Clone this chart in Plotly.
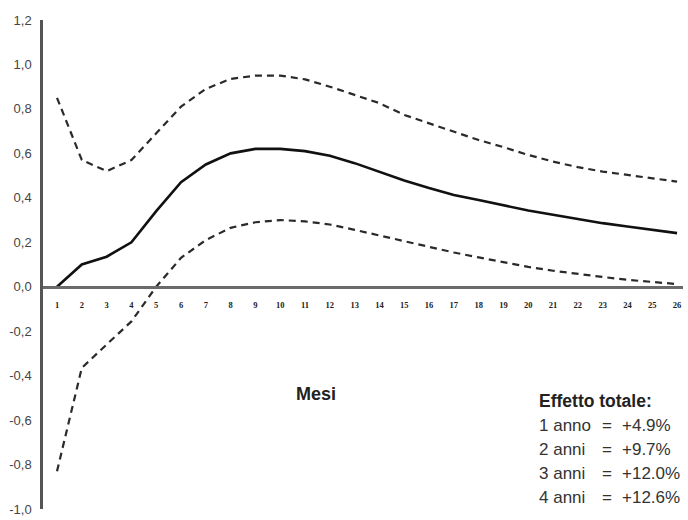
import plotly.graph_objects as go

months = list(range(1, 27))
month_labels = [str(m) for m in months]

central = [0.0, 0.10, 0.135, 0.20, 0.34, 0.47, 0.55, 0.60, 0.62, 0.62, 0.61, 0.589,
           0.556, 0.518, 0.478, 0.444, 0.413, 0.39, 0.365, 0.343, 0.324, 0.304,
           0.286, 0.271, 0.256, 0.241]
upper = [0.85, 0.57, 0.52, 0.57, 0.69, 0.81, 0.89, 0.935, 0.95, 0.95, 0.933, 0.90,
         0.863, 0.826, 0.773, 0.735, 0.698, 0.66, 0.628, 0.593, 0.563, 0.538,
         0.518, 0.503, 0.488, 0.473]
lower = [-0.83, -0.365, -0.26, -0.156, 0.0, 0.13, 0.21, 0.265, 0.29, 0.30, 0.294, 0.28,
         0.256, 0.231, 0.204, 0.178, 0.154, 0.132, 0.111, 0.089, 0.072, 0.057,
         0.044, 0.031, 0.021, 0.012]

y_ticks = [1.2, 1.0, 0.8, 0.6, 0.4, 0.2, 0.0, -0.2, -0.4, -0.6, -0.8, -1.0]
y_tick_labels = ["1,2", "1,0", "0,8", "0,6", "0,4", "0,2", "0,0",
                 "-0,2", "-0,4", "-0,6", "-0,8", "-1,0"]

summary_title = "Effetto totale:"
summary_labels = ["1 anno", "2 anni", "3 anni", "4 anni"]
summary_values = ["+4.9%", "+9.7%", "+12.0%", "+12.6%"]

fig = go.Figure()
fig.add_trace(go.Scatter(x=months, y=upper, mode="lines",
                         line=dict(color="#2a2a2a", width=2.2, dash="7px,5px")))
fig.add_trace(go.Scatter(x=months, y=lower, mode="lines",
                         line=dict(color="#2a2a2a", width=2.2, dash="7px,5px")))
fig.add_trace(go.Scatter(x=months, y=central, mode="lines",
                         line=dict(color="#111111", width=2.6)))

ymin, ymax = -1.0, 1.2
fig.update_layout(
    width=688, height=520,
    margin=dict(l=43, r=5, t=20, b=11),
    paper_bgcolor="white", plot_bgcolor="white",
    showlegend=False,
    font=dict(family="Liberation Sans, Arial, sans-serif", color="#333333"),
    xaxis=dict(range=[0.435, 26.24], anchor="free", position=(0 - ymin) / (ymax - ymin),
               showline=True, linecolor="#6a6a6a", linewidth=2.5, automargin=False,
               showgrid=False, zeroline=False, ticks="",
               tickmode="array", tickvals=months, ticktext=month_labels,
               tickfont=dict(family="Liberation Serif, serif", size=8.5, color="#222222",
                             weight="bold"),
               ticklabelstandoff=9),
    yaxis=dict(range=[ymin, ymax], showline=True, linecolor="#555555", linewidth=2.5,
               automargin=False,
               showgrid=False, zeroline=False, ticks="",
               tickmode="array", tickvals=y_ticks, ticktext=y_tick_labels,
               tickfont=dict(size=13, color="#444444"), ticklabelstandoff=6),
)

fig.add_annotation(xref="paper", yref="paper", x=(316 - 43) / 640, y=(509 - 394) / 489,
                   text="<b>Mesi</b>", showarrow=False, xanchor="center", yanchor="middle",
                   font=dict(size=18, color="#222222"))

x0 = (537 - 43) / 640
fig.add_annotation(xref="paper", yref="paper", x=x0, y=(509 - 401) / 489,
                   text="<b>" + summary_title + "</b>", showarrow=False,
                   xanchor="left", yanchor="middle", font=dict(size=17.5, color="#222222"))
for i, (lab, val) in enumerate(zip(summary_labels, summary_values)):
    yc = (509 - (425 + i * 24)) / 489
    fig.add_annotation(xref="paper", yref="paper", x=x0, y=yc, text=lab, showarrow=False,
                       xanchor="left", yanchor="middle", font=dict(size=17, color="#333333"))
    fig.add_annotation(xref="paper", yref="paper", x=(607 - 43) / 640, y=yc, text="=",
                       showarrow=False, xanchor="center", yanchor="middle",
                       font=dict(size=17, color="#333333"))
    fig.add_annotation(xref="paper", yref="paper", x=(620 - 43) / 640, y=yc, text=val,
                       showarrow=False, xanchor="left", yanchor="middle",
                       font=dict(size=17, color="#333333"))

fig.write_html("out.html", config={"displayModeBar": False},
               post_script="document.body.style.margin='0';")
